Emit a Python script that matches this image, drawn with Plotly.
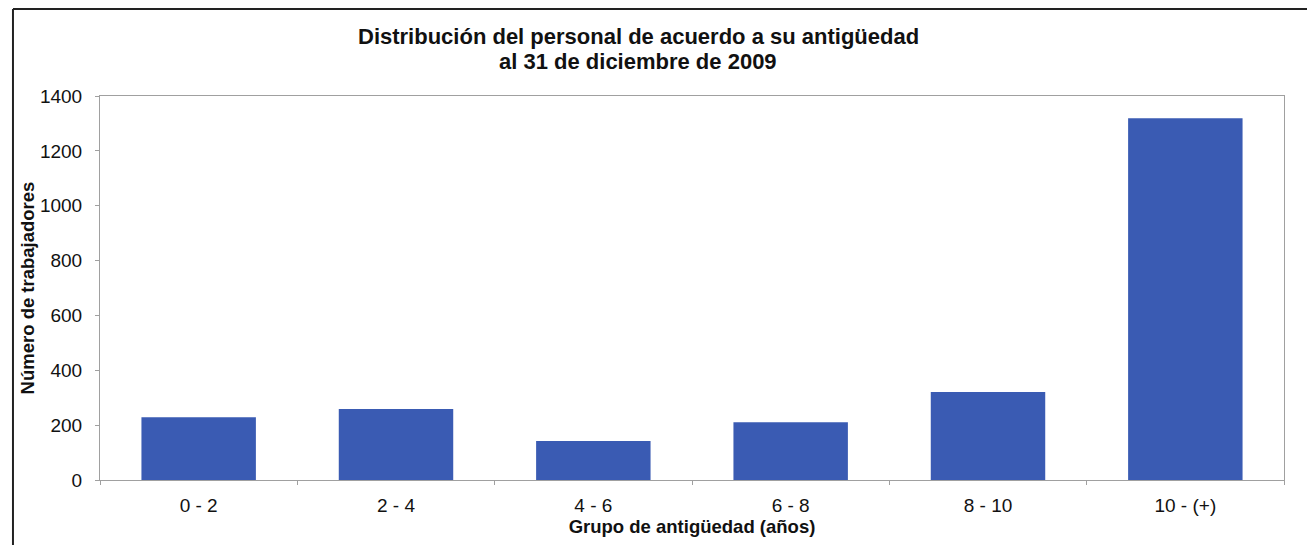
import plotly.graph_objects as go

categories = ["0 - 2", "2 - 4", "4 - 6", "6 - 8", "8 - 10", "10 - (+)"]
workers = [229, 259, 142, 211, 321, 1319]
y_ticks = [0, 200, 400, 600, 800, 1000, 1200, 1400]
title_lines = ["Distribución del personal de acuerdo a su antigüedad", "al 31 de diciembre de 2009"]

fig = go.Figure(go.Bar(x=categories, y=workers, marker=dict(color="#3A5BB3", line=dict(width=0))))

H = 537
# page body has an 8px margin; compensate so the plot lands where the reference has it
fig.update_layout(
    width=1307, height=H,
    paper_bgcolor="white", plot_bgcolor="white",
    margin=dict(l=92, r=31, t=88, b=65, autoexpand=False),
    bargap=0.42,
    showlegend=False,
    font=dict(family="Liberation Sans, Arial, sans-serif", color="#111111"),
    xaxis=dict(
        showline=True, linecolor="#a0a0a0", linewidth=1, mirror=True,
        ticks="outside", ticklen=4, tickcolor="#a0a0a0", tickson="boundaries",
        tickfont=dict(size=19), ticklabelstandoff=8,
        title=dict(text="<b>Grupo de antigüedad (años)</b>", font=dict(size=18.5), standoff=0),
        showgrid=False, automargin=False,
    ),
    yaxis=dict(
        range=[0, 1400], tickvals=y_ticks,
        showline=True, linecolor="#a0a0a0", linewidth=1, mirror=True,
        ticks="outside", ticklen=4, tickcolor="#a0a0a0", ticklabelstandoff=9,
        tickfont=dict(size=19), showgrid=False, zeroline=False,
        title=dict(text="<b>Número de trabajadores</b>", font=dict(size=18.5), standoff=0),
        automargin=False,
    ),
    annotations=[
        dict(text="<b>" + title_lines[0] + "</b>", xref="paper", yref="paper",
             x=(630 - 92) / 1184, y=1 + (88 - 28) / 384, xanchor="center", yanchor="middle",
             showarrow=False, font=dict(size=22, color="#111111")),
        dict(text="<b>" + title_lines[1] + "</b>", xref="paper", yref="paper",
             x=(630 - 92) / 1184, y=1 + (88 - 53) / 384, xanchor="center", yanchor="middle",
             showarrow=False, font=dict(size=22, color="#111111")),
    ],
    shapes=[
        dict(type="line", xref="paper", yref="paper", x0=-0.0735, x1=1.05, y0=1 + 87 / 384, y1=1 + 87 / 384,
             line=dict(color="#222222", width=2)),
        dict(type="line", xref="paper", yref="paper", x0=-0.0735, x1=-0.0735, y0=1 + 87 / 384, y1=-0.2,
             line=dict(color="#222222", width=2)),
    ],
)

fig.write_html("out.html")
